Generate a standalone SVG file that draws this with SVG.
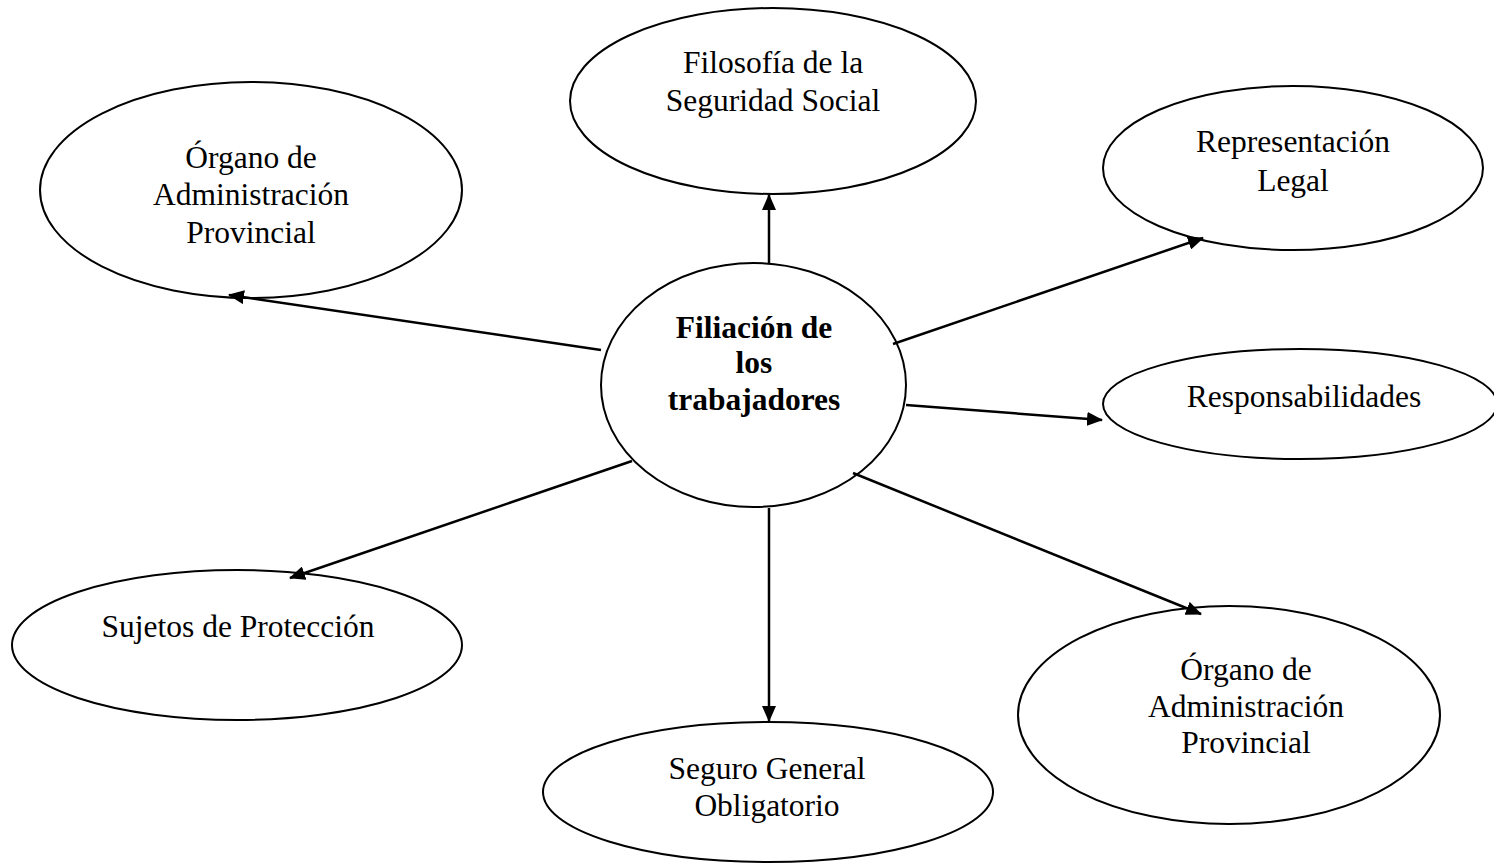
<svg xmlns="http://www.w3.org/2000/svg" width="1494" height="863" viewBox="0 0 1494 863">
<style>
.n{fill:#fff;stroke:#000;stroke-width:2}
.t{font-family:"Liberation Serif","Times New Roman",serif;font-size:31.5px;fill:#000;text-anchor:middle}
.b{font-weight:bold}
.c{stroke:#000;stroke-width:2.5;fill:none;marker-end:url(#ah)}
</style>
<defs>
<marker id="ah" markerUnits="userSpaceOnUse" markerWidth="16" markerHeight="14" refX="15" refY="7" orient="auto">
<path d="M0,0 L16,7 L0,14 Z" fill="#000"/>
</marker>
</defs>
<rect width="1494" height="863" fill="#fff"/>
<g id="n-filosofia"><ellipse class="n" cx="773" cy="101" rx="203" ry="93"/>
<text class="t" x="773" y="73">Filosofía de la</text><text class="t" x="773" y="111">Seguridad Social</text></g>
<g id="n-organo1"><ellipse class="n" cx="251" cy="190" rx="211" ry="108"/>
<text class="t" x="251" y="168">Órgano de</text><text class="t" x="251" y="205">Administración</text><text class="t" x="251" y="243">Provincial</text></g>
<g id="n-representacion"><ellipse class="n" cx="1293" cy="168" rx="190" ry="82"/>
<text class="t" x="1293" y="152">Representación</text><text class="t" x="1293" y="191">Legal</text></g>
<g id="n-centro"><ellipse class="n" cx="753.5" cy="385" rx="152.5" ry="122"/>
<text class="t b" x="754" y="338">Filiación de</text><text class="t b" x="754" y="373">los</text><text class="t b" x="754" y="410">trabajadores</text></g>
<g id="n-responsabilidades"><ellipse class="n" cx="1300" cy="404" rx="197" ry="55"/>
<text class="t" x="1304" y="407">Responsabilidades</text></g>
<g id="n-sujetos"><ellipse class="n" cx="237" cy="645" rx="225" ry="75"/>
<text class="t" x="238" y="637">Sujetos de Protección</text></g>
<g id="n-seguro"><ellipse class="n" cx="768" cy="792" rx="225" ry="70"/>
<text class="t" x="767" y="779">Seguro General</text><text class="t" x="767" y="816">Obligatorio</text></g>
<g id="n-organo2"><ellipse class="n" cx="1229" cy="715" rx="211" ry="109"/>
<text class="t" x="1246" y="680">Órgano de</text><text class="t" x="1246" y="717">Administración</text><text class="t" x="1246" y="753">Provincial</text></g>
<g id="connectors">
<line class="c" x1="769" y1="264" x2="769" y2="195"/>
<line class="c" x1="601" y1="350" x2="229" y2="295"/>
<line class="c" x1="893" y1="344" x2="1203" y2="238"/>
<line class="c" x1="906" y1="405" x2="1102" y2="420"/>
<line class="c" x1="853" y1="473" x2="1201" y2="614"/>
<line class="c" x1="769" y1="508" x2="769" y2="721"/>
<line class="c" x1="632" y1="461" x2="290" y2="578"/>
</g>
</svg>
